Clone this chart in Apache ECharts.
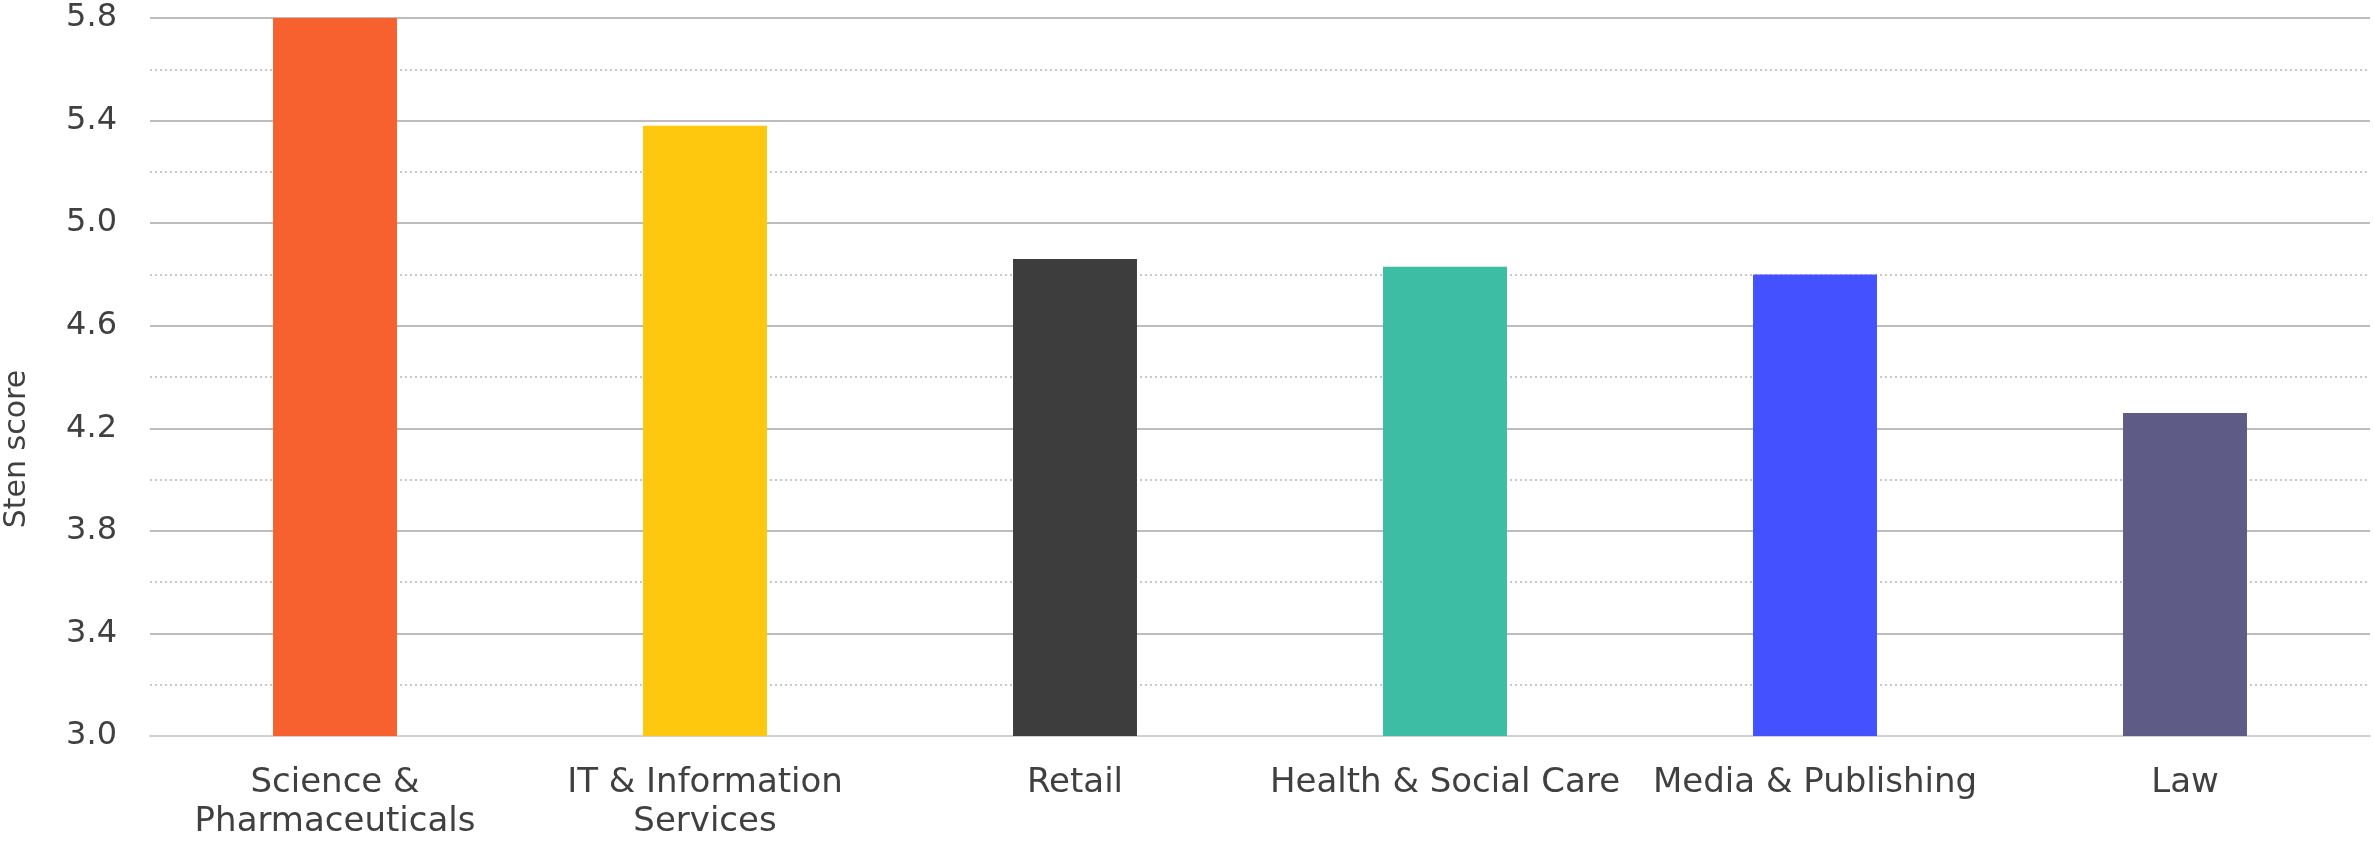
<!DOCTYPE html>
<html>
<head>
<meta charset="utf-8">
<script src="https://cdn.jsdelivr.net/npm/echarts@6/dist/echarts.min.js"></script>
<style>
  html, body { margin: 0; padding: 0; background: #ffffff; }
  #chart { width: 2374px; height: 842px; }
</style>
</head>
<body>
<div id="chart"></div>
<script>
// Sector names along the x axis
const categories = [
  'Science &\nPharmaceuticals',
  'IT & Information\nServices',
  'Retail',
  'Health & Social Care',
  'Media & Publishing',
  'Law'
];
// Mean sten score per sector
const stenScores = [5.8, 5.38, 4.86, 4.83, 4.80, 4.26];
// Bar colours, one per sector
const barColors = ['#F7612F', '#FEC80F', '#3D3D3D', '#3DBDA3', '#4351FF', '#5E5C87'];
// Y axis range and step
const yMin = 3.0, yMax = 5.8, yStep = 0.4;

const FONT = '"DejaVu Sans", "Open Sans", sans-serif';
const TEXT = '#404040';

const chart = echarts.init(document.getElementById('chart'), null, { renderer: 'canvas' });

chart.setOption({
  animation: false,
  grid: { left: 150, right: 4, top: 18, bottom: 104, containLabel: false },
  xAxis: {
    type: 'category',
    data: categories,
    axisTick: { show: false },
    axisLine: { show: true, lineStyle: { color: '#d0d0d0', width: 2 } },
    axisLabel: {
      color: TEXT, fontFamily: FONT, fontSize: 34, lineHeight: 39,
      margin: 28, interval: 0
    }
  },
  yAxis: {
    type: 'value',
    min: yMin, max: yMax, interval: yStep,
    axisLine: { show: false },
    axisTick: { show: false },
    axisLabel: {
      color: TEXT, fontFamily: FONT, fontSize: 32, margin: 33,
      formatter: v => v.toFixed(1)
    },
    splitLine: { show: true, lineStyle: { color: '#bdbdbd', width: 2 } },
    minorTick: { show: false, splitNumber: 2 },
    minorSplitLine: { show: true, lineStyle: { color: '#c8c8c8', width: 2, type: [2, 3] } }
  },
  graphic: [{
    type: 'text',
    x: 17, y: 449,
    rotation: Math.PI / 2,
    style: {
      text: 'Sten score',
      fill: TEXT,
      font: '30px ' + FONT,
      align: 'center', verticalAlign: 'middle',
      textAlign: 'center', textVerticalAlign: 'middle'
    }
  }],
  series: [{
    type: 'bar',
    barWidth: '33.5%',
    data: stenScores.map((v, i) => ({ value: v, itemStyle: { color: barColors[i] } }))
  }]
});
</script>
</body>
</html>
